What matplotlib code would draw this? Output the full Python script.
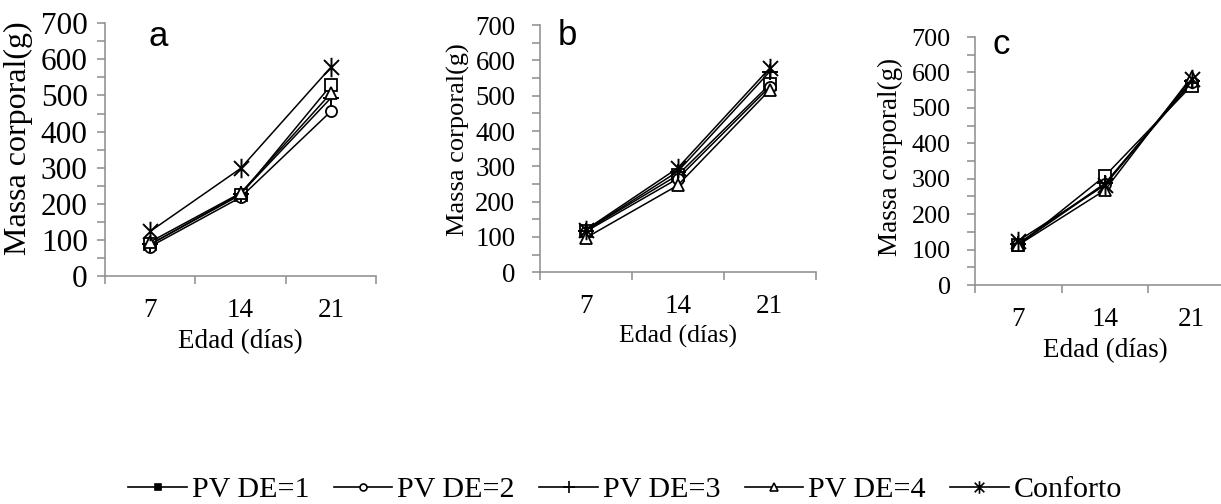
import matplotlib.pyplot as plt
from matplotlib.lines import Line2D
from matplotlib.path import Path
from matplotlib.ticker import MultipleLocator

dias = ["7", "14", "21"]
series = ["PV DE=1", "PV DE=2", "PV DE=3", "PV DE=4", "Conforto"]

# masa corporal (g) por panel, una lista por serie
panel_a = {
    "PV DE=1": [88, 225, 528],
    "PV DE=2": [82, 218, 456],
    "PV DE=3": [88, 228, 493],
    "PV DE=4": [95, 230, 506],
    "Conforto": [124, 298, 578],
}
panel_b = {
    "PV DE=1": [118, 275, 532],
    "PV DE=2": [115, 265, 525],
    "PV DE=3": [118, 285, 568],
    "PV DE=4": [97, 246, 516],
    "Conforto": [120, 295, 578],
}
panel_c = {
    "PV DE=1": [112, 308, 563],
    "PV DE=2": [115, 285, 572],
    "PV DE=3": [117, 287, 575],
    "PV DE=4": [113, 268, 588],
    "Conforto": [125, 282, 582],
}
letras = ["a", "b", "c"]

# asterisco estilo Excel: una x con una barra vertical
asterisco = Path([(-1, -1), (1, 1), (-1, 1), (1, -1), (0, -1.3), (0, 1.3)],
                 [Path.MOVETO, Path.LINETO, Path.MOVETO, Path.LINETO,
                  Path.MOVETO, Path.LINETO])

markers = {"PV DE=1": "s", "PV DE=2": "o", "PV DE=3": "+",
           "PV DE=4": "^", "Conforto": asterisco}
sizes = {"PV DE=1": 8, "PV DE=2": 8, "PV DE=3": 11, "PV DE=4": 9, "Conforto": 14}
leg_sizes = {"PV DE=1": 5, "PV DE=2": 5, "PV DE=3": 8, "PV DE=4": 6, "Conforto": 9}

serif = ["Liberation Serif", "DejaVu Serif"]
sans = ["Liberation Sans", "DejaVu Sans"]
grey = "#8c8c8c"

fig = plt.figure(figsize=(12.21, 5.04), dpi=100)

# ajustes de cada panel (posicion, letras, tamanos de fuente)
paneles = [
    dict(pos=[0.086, 0.452, 0.222, 0.502], letra_xy=(0.196, 0.949),
         ypad=6.5, ylab_xy=(-0.266, 0.545), ytick_fs=22.5, ylab_fs=23,
         xlab_fs=19.5),
    dict(pos=[0.442, 0.460, 0.226, 0.490], letra_xy=(0.101, 0.96),
         ypad=11.5, ylab_xy=(-0.254, 0.538), ytick_fs=19.3, ylab_fs=19,
         xlab_fs=18.5),
    dict(pos=[0.7985, 0.4345, 0.213, 0.492], letra_xy=(0.10, 0.968),
         ypad=11.5, ylab_xy=(-0.277, 0.516), ytick_fs=18.8, ylab_fs=19.5,
         xlab_fs=19.5),
]


def draw_panel(ax, data, letra, cfg):
    x = [0.5, 1.5, 2.5]
    for name in series:
        m = markers[name]
        if name in ("PV DE=3", "Conforto"):
            ax.plot(x, data[name], color="black", lw=1.1, marker=m,
                    markersize=sizes[name], markeredgewidth=1.4)
        else:
            ax.plot(x, data[name], color="black", lw=1.1, marker=m,
                    markersize=sizes[name], markerfacecolor="white",
                    markeredgecolor="black", markeredgewidth=1.3)
    ax.set_xlim(0, 3)
    ax.set_ylim(0, 700)
    ax.set_xticks([0, 1, 2, 3])
    ax.set_xticklabels([])
    ax.set_xticks(x, minor=True)
    ax.set_xticklabels(dias, minor=True, fontsize=19.5, family=serif)
    ax.tick_params(axis="x", which="major", length=6, color=grey, width=1.1)
    ax.tick_params(axis="x", which="minor", length=0, pad=16)
    ax.yaxis.set_major_locator(MultipleLocator(100))
    ax.yaxis.set_minor_locator(MultipleLocator(50))
    for lab in ax.get_yticklabels():
        lab.set_family(serif)
        lab.set_fontsize(cfg["ytick_fs"])
    ax.tick_params(axis="y", which="both", length=6, color=grey, width=1.1,
                   pad=cfg["ypad"])
    for s in ("top", "right"):
        ax.spines[s].set_visible(False)
    for s in ("left", "bottom"):
        ax.spines[s].set_color(grey)
        ax.spines[s].set_linewidth(1.1)
    ax.set_ylabel("Massa corporal(g)", fontsize=cfg["ylab_fs"], family=serif)
    ax.yaxis.set_label_coords(*cfg["ylab_xy"])
    ax.set_xlabel("Edad (días)", fontsize=cfg["xlab_fs"], family=serif, labelpad=4)
    ax.text(cfg["letra_xy"][0], cfg["letra_xy"][1], letra, transform=ax.transAxes,
            fontsize=25, family=sans, va="center", ha="center")


for cfg, data, letra in zip(paneles, [panel_a, panel_b, panel_c], letras):
    ax = fig.add_axes(cfg["pos"])
    draw_panel(ax, data, letra, cfg)

handles = []
for name in series:
    m = markers[name]
    face = "black" if name == "PV DE=1" else "white"
    handles.append(Line2D([], [], color="black", lw=1.2, marker=m,
                          markersize=leg_sizes[name], markerfacecolor=face,
                          markeredgecolor="black", markeredgewidth=1.2))
fig.legend(handles, series, loc="center", bbox_to_anchor=(0.512, 0.028),
           ncol=5, frameon=False, prop={"family": serif, "size": 21.6},
           handlelength=1.95, handletextpad=0.16, columnspacing=0.82,
           borderpad=0, borderaxespad=0)

fig.savefig("out.png", dpi=100)
